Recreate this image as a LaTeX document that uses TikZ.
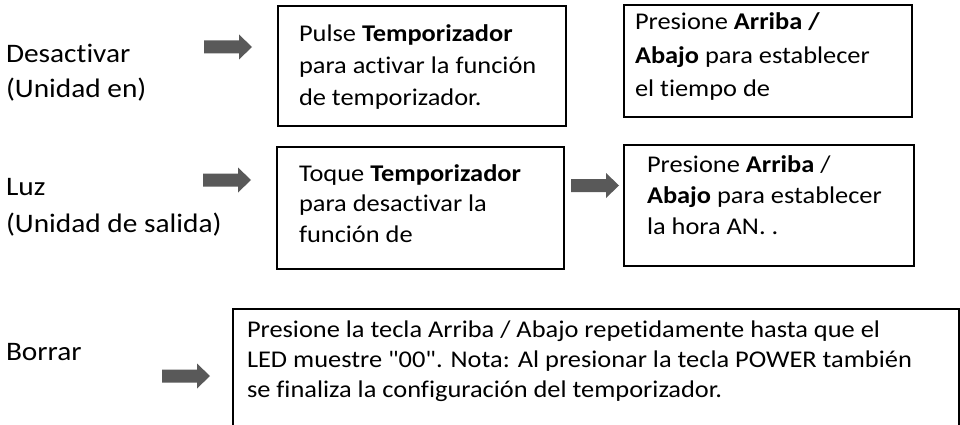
\documentclass[tikz,border=0pt]{standalone}
\usepackage{fontspec}
\setmainfont[FakeStretch=1.10, Ligatures={TeXOff,NoCommon}]{Carlito}
\definecolor{arrowgray}{HTML}{595959}
\begin{document}
\begin{tikzpicture}[x=1pt,y=-1pt,
  txt/.style={anchor=base west, inner sep=0pt, outer sep=0pt, align=left, font=\fontsize{24}{32}\selectfont},
  lbl/.style={txt, font=\fontsize{26.7}{35}\selectfont},
  box/.style={draw=black, line width=1.6pt, anchor=north west, inner sep=0pt},
  blockarr/.pic={\fill[arrowgray] (0,-6.5) -- (35,-6.5) -- (35,-12.5) -- (48,0) -- (35,12.5) -- (35,6.5) -- (0,6.5) -- cycle;}]
\useasboundingbox (0,0) rectangle (960,425);
\clip (0,0) rectangle (960,425);
\fill[white] (0,0) rectangle (960,425);

% left labels (anchor = baseline of the last line)
\node[lbl, font=\fontsize{26.7}{34.5}\selectfont] (l1) at (6,97.5) {Desactivar\\(Unidad en)};
\node[lbl, font=\fontsize{26.7}{37}\selectfont] (l2) at (6,232) {Luz\\(Unidad de salida)};
\node[lbl] (l3) at (6,360) {Borrar};

% boxes
\node[box, minimum width=288pt, minimum height=120pt] (b1) at (277,5) {};
\node[box, minimum width=288pt, minimum height=112pt] (b2) at (623,4) {};
\node[box, minimum width=287pt, minimum height=122pt] (b3) at (276,146) {};
\node[box, minimum width=290pt, minimum height=121pt] (b4) at (623,144) {};
\node[box, minimum width=726pt, minimum height=160pt] (b5) at (232,308) {};

% box texts (anchor = baseline of the last line)
\node[txt] (t1) at (299,106) {Pulse \textbf{Temporizador}\\para activar la función\\de temporizador.};
\begin{scope}
\clip (b2.north west) rectangle ([yshift=16pt]b2.south east);
\node[txt, font=\fontsize{24}{33.5}\selectfont] (t2) at (635,97) {Presione \textbf{Arriba /}\\\textbf{Abajo} para establecer\\el tiempo de};
\end{scope}
\node[txt, font=\fontsize{24}{30.5}\selectfont] (t3) at (299,242) {Toque \textbf{Temporizador}\\para desactivar la\\función de};
\node[txt, font=\fontsize{24}{31}\selectfont] (t4) at (647,234) {Presione \textbf{Arriba} /\\\textbf{Abajo} para establecer\\la hora AN. .};
\node[txt, font=\fontsize{24}{30}\selectfont] (t5) at (247,397) {Presione la tecla Arriba / Abajo repetidamente hasta que el\\LED muestre "00". Nota: Al presionar la tecla POWER también\\se finaliza la configuración del temporizador.};

% arrows
\pic at (204,47) {blockarr};
\pic at (203,180) {blockarr};
\pic at (571,185.5) {blockarr};
\pic at (162,376) {blockarr};
\end{tikzpicture}
\end{document}
